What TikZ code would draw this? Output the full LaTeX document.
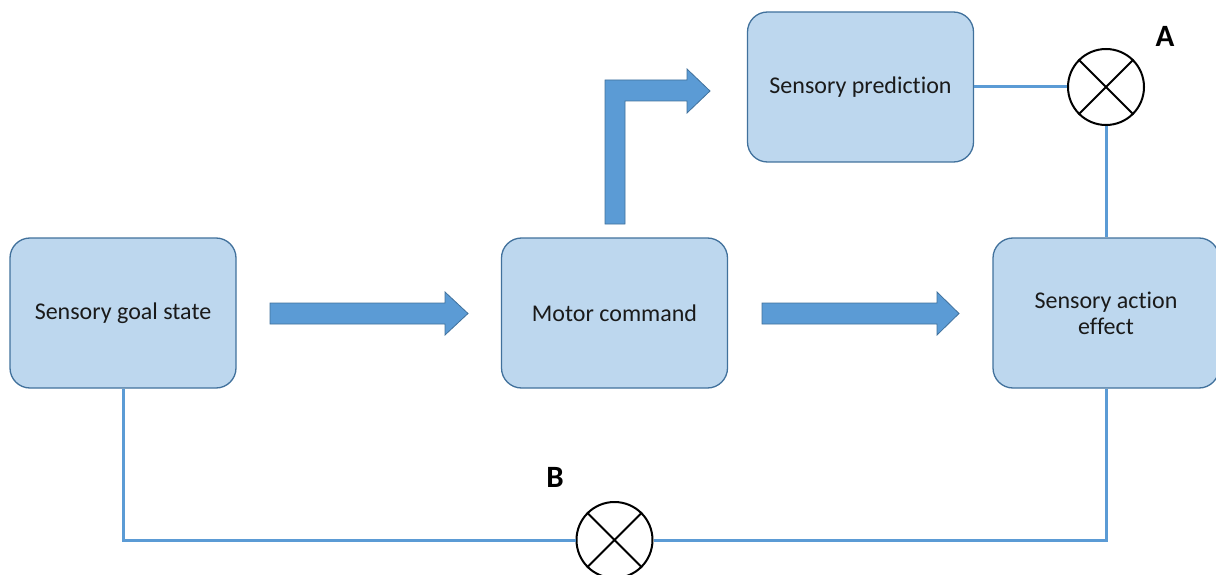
\documentclass[tikz,border=0pt]{standalone}
\usepackage{fontspec}
\setmainfont{Carlito}[Ligatures={NoCommon}]
\definecolor{boxfill}{HTML}{BDD7EE}
\definecolor{boxline}{HTML}{41719C}
\definecolor{arrowfill}{HTML}{5B9BD5}
\definecolor{linkcol}{HTML}{5B9BD5}
\definecolor{txt}{HTML}{1A1A1A}
\begin{document}
\begin{tikzpicture}[x=1pt,y=-1pt,
  stagebox/.style={draw=boxline, fill=boxfill, line width=1.3pt, rounded corners=20pt,
    minimum width=226pt, minimum height=150pt, align=center, text=txt, font=\fontsize{24}{29}\selectfont, inner sep=0pt},
  blockarrow/.style={draw=boxline, fill=arrowfill, line width=0.8pt},
  link/.style={draw=linkcol, line width=3pt},
  mixer/.style={draw=black, line width=2pt, circle, minimum size=76pt, inner sep=0pt},
  cross/.style={draw=black, line width=2pt},
  letter/.style={font=\bfseries\fontsize{31}{36}\selectfont}]
\useasboundingbox (0,0) rectangle (1216,575);

\node[stagebox] (goal) at (123,313) {\raisebox{-2pt}{Sensory goal state}};
\node[stagebox] (motor) at (614.5,313) {\raisebox{-2pt}{Motor command}};
\node[stagebox] (act) at (1106,313) {Sensory action\\[-3pt] effect};
\node[stagebox] (pred) at (860.5,87) {\raisebox{-2pt}{Sensory prediction}};

\node[mixer] (A) at (1106,87) {};
\node[mixer] (B) at (614.5,540) {};
\draw[cross] (A.north west) -- (A.south east) (A.north east) -- (A.south west);
\draw[cross] (B.north west) -- (B.south east) (B.north east) -- (B.south west);

\node[letter] (la) at (1165,36) {A};
\node[letter] (lb) at (555,477) {B};

% block arrows
\draw[blockarrow] (270,303) -- (445,303) -- (445,292) -- (468,313.5) -- (445,335) -- (445,324) -- (270,324) -- cycle;
\draw[blockarrow] (762,303) -- (937,303) -- (937,292) -- (959,313.5) -- (937,335) -- (937,324) -- (762,324) -- cycle;
\draw[blockarrow] (605,224) -- (605,80) -- (687,80) -- (687,69) -- (710,91) -- (687,113) -- (687,101) -- (625,101) -- (625,224) -- cycle;

% connectors
\draw[link] (pred.east) -- (A.west);
\draw[link] (A.south) -- (A.south |- act.north);
\draw[link] (goal.south) |- (B.west);
\draw[link] (B.east) -| (act.south);
\end{tikzpicture}
\end{document}
